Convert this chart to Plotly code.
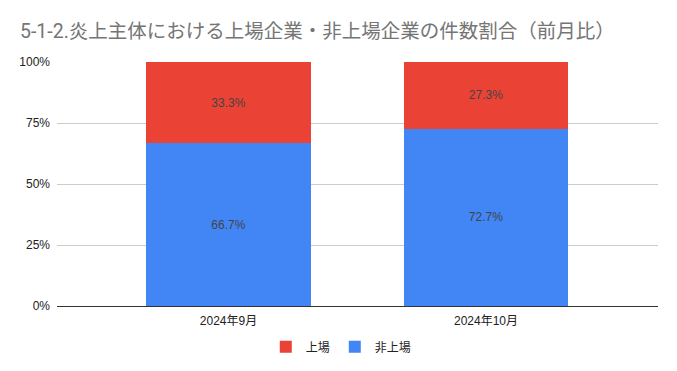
import plotly.graph_objects as go

categories = ["2024年9月", "2024年10月"]
listed = [33.3, 27.3]
unlisted = [66.7, 72.7]
yticks = [0, 25, 50, 75, 100]

font_main = "Roboto, Arial, 'Liberation Sans', 'Noto Sans CJK JP', sans-serif"
font_axis = "Arial, 'Liberation Sans', 'Noto Sans CJK JP', sans-serif"

fig = go.Figure()
fig.add_trace(go.Bar(
    x=categories, y=unlisted, name="非上場", marker_color="#4285F4",
    marker_line_width=0, width=0.64,
    text=[f"{v:.1f}%" for v in unlisted], textposition="inside",
    insidetextanchor="middle", textfont=dict(color="#444444", size=12, family=font_axis),
))
fig.add_trace(go.Bar(
    x=categories, y=listed, name="上場", marker_color="#EA4335",
    marker_line_width=0, width=0.64,
    text=[f"{v:.1f}%" for v in listed], textposition="inside",
    insidetextanchor="middle", textfont=dict(color="#444444", size=12, family=font_axis),
))

fig.update_layout(
    barmode="stack",
    width=677, height=371,
    margin=dict(l=57, r=19, t=62, b=65, autoexpand=False),
    paper_bgcolor="white", plot_bgcolor="white",
    font=dict(family=font_axis, size=12, color="#222222"),
    title=dict(text="5-1-2.炎上主体における上場企業・非上場企業の件数割合（前月比）",
               xref="container", x=20/677, xanchor="left",
               yref="container", y=1 - 31/371, yanchor="middle",
               pad=dict(l=0, r=0, t=0, b=0),
               font=dict(size=19.5, color="#757575", family=font_main)),
    showlegend=True,
    legend=dict(orientation="h", x=0.473, xanchor="center", y=-0.108, yanchor="top",
                traceorder="reversed", font=dict(size=12, color="#222222")),
    uniformtext=dict(mode="show", minsize=8),
)
fig.update_xaxes(range=[-0.666, 1.668], showgrid=False, showline=True, automargin=False,
                 linecolor="#333333", linewidth=1, ticks="", ticklabelstandoff=4,
                 tickfont=dict(size=12))
fig.update_yaxes(range=[0, 100], tickvals=yticks, ticktext=[f"{v}%" for v in yticks],
                 showgrid=True, gridcolor="#CCCCCC", gridwidth=1, zeroline=False, automargin=False,
                 ticks="", ticklabelstandoff=6, tickfont=dict(size=12, color="#222222"))

fig.write_html("out.html", post_script="document.body.style.margin='0';",
               config={"displayModeBar": False})
